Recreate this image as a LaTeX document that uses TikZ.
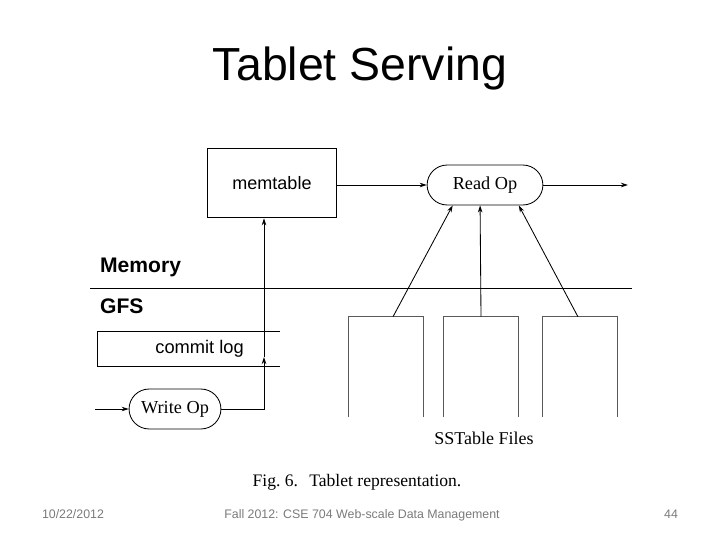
\documentclass[tikz,border=0pt]{standalone}
\usepackage{fontspec}
\setmainfont{Liberation Sans}
\newfontfamily\figserif{Liberation Serif}
\usepackage{xcolor}
\usepackage{tikz}
\usetikzlibrary{positioning,arrows.meta,shapes.misc}

\definecolor{footgray}{HTML}{7A7A7A}

\begin{document}
\begin{tikzpicture}[x=0.025cm,y=-0.025cm,>={Stealth[length=5pt,width=3.2pt]},
    line width=0.6pt,
    every node/.style={align=center},
    box/.style={draw,rectangle,minimum width=92pt,minimum height=49.6pt,font=\fontsize{12.8}{14}\selectfont},
    opbox/.style={draw,rounded rectangle,minimum height=28.4pt,font=\figserif\fontsize{13}{15}\selectfont},
    file/.style={rectangle,minimum width=53pt,minimum height=71pt},
    layer/.style={anchor=west,font=\bfseries\fontsize{15}{17}\selectfont},
    foot/.style={anchor=base,text=footgray,font=\fontsize{8.8}{10}\selectfont}]
  \useasboundingbox (0,0) rectangle (720,540);

  \node[font=\fontsize{33}{38}\selectfont] (title) at (360,68) {Tablet Serving};

  % memory side
  \node[box] (memtable) at (272,183) {memtable};
  \node[opbox,minimum width=89pt] (readop) at (485,185) {Read Op};
  \coordinate (rout) at (628,185);

  \draw[->] (memtable.east |- readop.west) -- (readop.west);
  \draw[->] (readop.east) -- (rout);

  % layer split
  \coordinate (sepl) at (90,288);
  \coordinate (sepr) at (632,288);
  \draw (sepl) -- (sepr);
  \node[layer] (memory) at (95,267) {Memory};
  \node[layer] (gfs) at (95,306) {GFS};

  % commit log, open on the right
  \node[rectangle,minimum width=129pt,minimum height=24pt,font=\fontsize{13}{15}\selectfont] (commitlog) at (189,349) {\hspace*{15pt}commit log};
  \draw (commitlog.north east) -- (commitlog.north west) -- (commitlog.south west) -- (commitlog.south east);

  \node[opbox,minimum width=72pt] (writeop) at (175,409) {Write Op};
  \coordinate (win) at (95,409);
  \coordinate (cl) at (264,357);
  \draw[->] (win) -- (writeop.west);
  \draw[->] (writeop.east) -| (cl);
  \draw[->] (cl) -- (memtable.south -| cl);

  % sstables, open at the bottom
  \node[file] (ss1) at (386,367) {};
  \node[file] (ss2) at (481,367) {};
  \node[file] (ss3) at (580,367) {};
  \foreach \s in {ss1,ss2,ss3}
    \draw[black!65] (\s.south west) -- (\s.north west) -- (\s.north east) -- (\s.south east);

  \draw[->] ([xshift=5pt]ss1.north) -- ([xshift=-23pt]readop.south);
  \draw[->] (ss2.north) -- ([xshift=-3.5pt]readop.south);
  \draw[->] ([xshift=-1.5pt]ss3.north) -- ([xshift=24pt]readop.south);

  \node[font=\figserif\fontsize{12.8}{15}\selectfont] (sstlabel) at (484,438) {SSTable Files};
  \node[font=\figserif\fontsize{12.5}{15}\selectfont] (caption) at (357,482) {Fig.~6.\hspace{8pt}Tablet representation.};

  % footer
  \node[foot] (date) at (73,518) {10/22/2012};
  \node[foot] (course) at (362,518) {Fall 2012: CSE 704 Web-scale Data Management};
  \node[foot] (page) at (671,518) {44};
\end{tikzpicture}
\end{document}
